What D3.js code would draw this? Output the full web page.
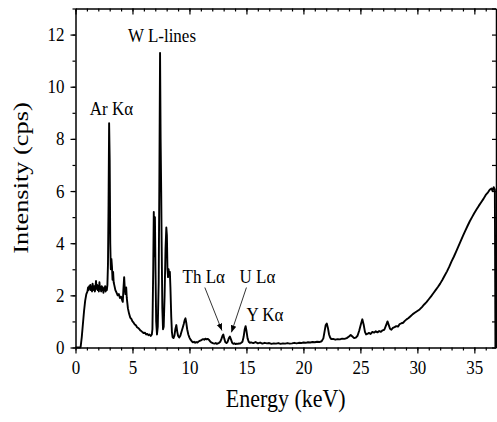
<!DOCTYPE html>
<html>
<head>
<meta charset="utf-8">
<script src="https://cdn.jsdelivr.net/npm/d3@7"></script>
<style>
  body { margin: 0; background: #fff; }
  svg text { font-family: "Liberation Serif", "Times New Roman", serif; fill: #000; }
</style>
</head>
<body>
<div id="chart"></div>
<script>
// Spectrum (keV, cps)
const energy = [
  0.0, 0.40, 0.45, 0.55, 0.65, 0.75, 0.85, 0.95, 1.05, 1.1, 1.15, 1.2, 1.25, 1.3, 1.35, 1.4, 1.45, 1.5,
  1.55, 1.6, 1.65, 1.7, 1.75, 1.8, 1.85, 1.9, 1.95, 2.0, 2.05, 2.1, 2.15, 2.2, 2.25, 2.3, 2.35, 2.4,
  2.45, 2.5, 2.55, 2.6, 2.65, 2.7, 2.75, 2.8, 2.85, 2.9, 2.95, 3.0, 3.05, 3.1, 3.15, 3.2, 3.25, 3.3,
  3.35, 3.4, 3.5, 3.6, 3.7, 3.8, 3.9, 4.0, 4.1, 4.15, 4.2, 4.27, 4.32, 4.38, 4.45, 4.5, 4.55, 4.6,
  4.7, 4.8, 4.9, 5.0, 5.1, 5.2, 5.3, 5.4, 5.5, 5.6, 5.7, 5.8, 5.9, 6.0, 6.1, 6.2, 6.3, 6.4, 6.5,
  6.6, 6.7, 6.75, 6.82, 6.87, 6.92, 6.97, 7.02, 7.08, 7.15, 7.22, 7.3, 7.36, 7.42, 7.47, 7.52, 7.56,
  7.62, 7.68, 7.74, 7.82, 7.9, 7.97, 8.02, 8.07, 8.12, 8.17, 8.22, 8.28, 8.33, 8.4, 8.46, 8.52, 8.6,
  8.68, 8.76, 8.85, 8.93, 9.0, 9.1, 9.2, 9.3, 9.4, 9.5, 9.58, 9.65, 9.72, 9.8, 9.9, 10.0, 10.1,
  10.2, 10.3, 10.4, 10.5, 10.6, 10.7, 10.8, 10.9, 11.0, 11.1, 11.2, 11.3, 11.4, 11.5, 11.6, 11.7,
  11.8, 11.9, 12.0, 12.1, 12.2, 12.3, 12.4, 12.5, 12.6, 12.7, 12.8, 12.9, 12.97, 13.05, 13.15, 13.25,
  13.35, 13.45, 13.55, 13.65, 13.75, 13.85, 13.95, 14.05, 14.15, 14.25, 14.35, 14.45, 14.55, 14.65,
  14.75, 14.85, 14.93, 15.0, 15.1, 15.2, 15.3, 15.4, 15.6, 15.8, 16.0, 16.2, 16.4, 16.6, 16.8, 17.0,
  17.2, 17.4, 17.6, 17.8, 18.0, 18.2, 18.4, 18.6, 18.8, 19.0, 19.2, 19.4, 19.6, 19.8, 20.0, 20.2,
  20.4, 20.6, 20.8, 21.0, 21.2, 21.4, 21.6, 21.75, 21.85, 21.95, 22.05, 22.15, 22.25, 22.35, 22.45,
  22.6, 22.8, 23.0, 23.2, 23.4, 23.6, 23.8, 24.0, 24.15, 24.3, 24.45, 24.6, 24.75, 24.9, 25.05, 25.17,
  25.3, 25.4, 25.5, 25.6, 25.75, 25.9, 26.05, 26.2, 26.35, 26.5, 26.65, 26.8, 26.95, 27.1, 27.25,
  27.38, 27.5, 27.6, 27.72, 27.85, 28.0, 28.15, 28.3, 28.45, 28.6, 28.75, 28.9, 29.05, 29.2, 29.4,
  29.6, 29.8, 30.0, 30.2, 30.4, 30.6, 30.8, 31.0, 31.2, 31.4, 31.6, 31.8, 32.0, 32.2, 32.4, 32.6,
  32.8, 33.0, 33.2, 33.4, 33.6, 33.8, 34.0, 34.2, 34.4, 34.6, 34.8, 35.0, 35.2, 35.4, 35.6, 35.8,
  36.0, 36.2, 36.35, 36.5, 36.6, 36.7, 36.8, 36.85
];
const intensity = [
  0, 0, 0.02, 0.4, 0.9, 1.4, 1.8, 2.05, 2.15, 2.3, 2.2, 2.35, 2.25, 2.4, 2.2, 2.3, 2.15, 2.45,
  2.3, 2.2, 2.35, 2.15, 2.3, 2.55, 2.25, 2.4, 2.2, 2.35, 2.15, 2.5, 2.25, 2.3, 2.15, 2.35, 2.2, 2.3,
  2.1, 2.25, 2.2, 2.35, 2.15, 2.3, 2.2, 2.4, 3.2, 5.5, 8.6, 7.2, 4.0, 3.0, 3.4, 3.1, 2.6, 2.9,
  2.5, 2.4, 2.2, 2.1, 2.0, 2.05, 1.9, 1.95, 1.8, 1.75, 2.2, 2.7, 2.3, 2.05, 2.3, 1.9, 1.7, 1.5,
  1.3, 1.15, 1.1, 1.0, 0.95, 0.88, 0.85, 0.78, 0.75, 0.7, 0.65, 0.62, 0.58, 0.55, 0.57, 0.5, 0.52, 0.47, 0.5,
  0.44, 0.5, 0.7, 3.0, 5.2, 3.5, 5.0, 3.0, 1.0, 0.5, 0.8, 2.5, 6.5, 11.3, 8.0, 6.0, 4.0,
  1.5, 0.7, 0.8, 2.0, 3.8, 4.6, 4.3, 3.0, 2.7, 3.0, 2.8, 2.9, 2.3, 1.2, 0.6, 0.4, 0.36,
  0.45, 0.7, 0.86, 0.6, 0.45, 0.38, 0.45, 0.6, 0.75, 0.9, 1.05, 1.12, 0.95, 0.7, 0.5, 0.38, 0.3,
  0.24, 0.2, 0.22, 0.18, 0.21, 0.19, 0.23, 0.25, 0.27, 0.3, 0.32, 0.3, 0.34, 0.31, 0.33, 0.3,
  0.24, 0.2, 0.18, 0.16, 0.15, 0.17, 0.14, 0.16, 0.18, 0.22, 0.32, 0.45, 0.5, 0.35, 0.2, 0.17,
  0.22, 0.35, 0.42, 0.3, 0.18, 0.14, 0.16, 0.13, 0.15, 0.14, 0.16, 0.15, 0.18, 0.22,
  0.4, 0.7, 0.82, 0.65, 0.35, 0.22, 0.18, 0.2, 0.17, 0.21, 0.16, 0.19, 0.15, 0.18, 0.16, 0.17,
  0.14, 0.16, 0.15, 0.17, 0.14, 0.16, 0.15, 0.17, 0.15, 0.16, 0.18, 0.16, 0.18, 0.17, 0.19, 0.18,
  0.2, 0.19, 0.21, 0.2, 0.22, 0.21, 0.24, 0.35, 0.6, 0.85, 0.92, 0.75, 0.5, 0.38, 0.32,
  0.33, 0.3, 0.32, 0.31, 0.34, 0.33, 0.36, 0.42, 0.48, 0.42, 0.36, 0.38, 0.45, 0.65, 0.9, 1.08,
  0.85, 0.6, 0.5, 0.52, 0.56, 0.52, 0.6, 0.57, 0.62, 0.58, 0.63, 0.6, 0.66, 0.68, 0.85,
  1.0, 0.85, 0.72, 0.68, 0.75, 0.78, 0.82, 0.8, 0.9, 0.93, 0.95, 1.02, 1.08, 1.12, 1.2,
  1.28, 1.34, 1.4, 1.46, 1.55, 1.65, 1.74, 1.85, 1.96, 2.08, 2.2, 2.32, 2.45, 2.6, 2.76, 2.92,
  3.1, 3.3, 3.48, 3.68, 3.88, 4.08, 4.28, 4.47, 4.66, 4.84, 5.0, 5.16, 5.3, 5.44, 5.57, 5.7,
  5.85, 5.95, 6.05, 6.1, 6.0, 6.15, 6.05, 0
];

const xTicks = [0, 5, 10, 15, 20, 25, 30, 35];
const yTicks = [0, 2, 4, 6, 8, 10, 12];

const labels = [
  { text: "Ar K\u03b1", e: 1.25, v: 8.9 },
  { text: "W L-lines", e: 4.6, v: 11.7 },
  { text: "Th L\u03b1", e: 9.4, v: 2.48 },
  { text: "U L\u03b1", e: 14.4, v: 2.48 },
  { text: "Y K\u03b1", e: 15.0, v: 1.0 }
];
// arrows: from label to peak
const arrows = [
  { e0: 11.35, v0: 2.3, e1: 12.85, v1: 0.65 },
  { e0: 15.0, v0: 2.3, e1: 13.68, v1: 0.58 }
];

const width = 497;
const height = 422;
const margin = { top: 8.5, right: 1, bottom: 74.5, left: 75.5 };
const stretch = 1.12; // text in the picture is a bit taller than wide

const svg = d3.select("#chart")
    .append("svg")
    .attr("width", width)
    .attr("height", height);

svg.append("defs").append("marker")
    .attr("id", "arrow")
    .attr("viewBox", "0 -5 10 10")
    .attr("refX", 10)
    .attr("refY", 0)
    .attr("markerWidth", 7)
    .attr("markerHeight", 7)
    .attr("markerUnits", "userSpaceOnUse")
    .attr("orient", "auto")
    .append("path")
    .attr("d", "M0,-4L10,0L0,4Z")
    .attr("fill", "#000");

const x = d3.scaleLinear()
    .domain([0, 36.9])
    .range([margin.left, width - margin.right]);

const y = d3.scaleLinear()
    .domain([0, 13])
    .range([height - margin.bottom, margin.top]);

const minorX = d3.range(0, 37, 1);
const minorY = d3.range(0, 14, 1);

// bottom axis, major + minor
svg.append("g")
    .attr("transform", `translate(0,${y(0)})`)
    .call(d3.axisBottom(x).tickValues(minorX).tickSize(3).tickFormat(""))
    .call(g => g.select(".domain").remove());
svg.append("g")
    .attr("transform", `translate(0,${y(0)})`)
    .call(d3.axisBottom(x).tickValues(xTicks).tickSize(6).tickPadding(6).tickSizeOuter(0))
    .attr("font-size", 17)
    .call(g => g.selectAll(".tick text").attr("transform", `scale(1,${stretch})`));

// top axis, ticks inward
svg.append("g")
    .attr("transform", `translate(0,${y(13)})`)
    .call(d3.axisBottom(x).tickValues(minorX).tickSize(3).tickFormat(""))
    .call(g => g.select(".domain").remove());
svg.append("g")
    .attr("transform", `translate(0,${y(13)})`)
    .call(d3.axisBottom(x).tickValues(xTicks).tickSize(6).tickFormat("").tickSizeOuter(0));

// left axis
svg.append("g")
    .attr("transform", `translate(${x(0)},0)`)
    .call(d3.axisLeft(y).tickValues(minorY).tickSize(3).tickFormat(""))
    .call(g => g.select(".domain").remove());
svg.append("g")
    .attr("transform", `translate(${x(0)},0)`)
    .call(d3.axisLeft(y).tickValues(yTicks).tickSize(5).tickPadding(6).tickSizeOuter(0))
    .attr("font-size", 17)
    .call(g => g.selectAll(".tick text").attr("transform", `scale(1,${stretch})`));

// right axis, ticks inward
svg.append("g")
    .attr("transform", `translate(${x(36.9)},0)`)
    .call(d3.axisRight(y).tickValues(minorY).tickSize(-4).tickFormat("").tickSizeOuter(0));

svg.selectAll(".domain").attr("stroke-width", 1.5);
svg.selectAll(".tick line").attr("stroke-width", 1.2);

// spectrum
const points = energy.map((e, i) => [e, intensity[i]]);
const line = d3.line()
    .x(d => x(d[0]))
    .y(d => y(d[1]));

svg.append("path")
    .datum(points)
    .attr("fill", "none")
    .attr("stroke", "#000")
    .attr("stroke-width", 1.9)
    .attr("stroke-linejoin", "round")
    .attr("d", line);

// annotations
svg.append("g")
    .selectAll("text")
    .data(labels)
    .join("text")
    .attr("transform", d => `translate(${x(d.e)},${y(d.v)}) scale(1,${stretch})`)
    .attr("font-size", 17)
    .text(d => d.text);

svg.append("g")
    .selectAll("line")
    .data(arrows)
    .join("line")
    .attr("x1", d => x(d.e0))
    .attr("y1", d => y(d.v0))
    .attr("x2", d => x(d.e1))
    .attr("y2", d => y(d.v1))
    .attr("stroke", "#000")
    .attr("stroke-width", 0.8)
    .attr("marker-end", "url(#arrow)");

// axis titles
svg.append("text")
    .attr("transform", `translate(${(x(0) + x(36.9)) / 2},407) scale(1,${stretch})`)
    .attr("text-anchor", "middle")
    .attr("font-size", 22)
    .text("Energy (keV)");

svg.append("text")
    .attr("transform", `translate(28,${(y(0) + y(13)) / 2}) rotate(-90) scale(1.2,1)`)
    .attr("text-anchor", "middle")
    .attr("font-size", 22)
    .text("Intensity (cps)");
</script>
</body>
</html>
